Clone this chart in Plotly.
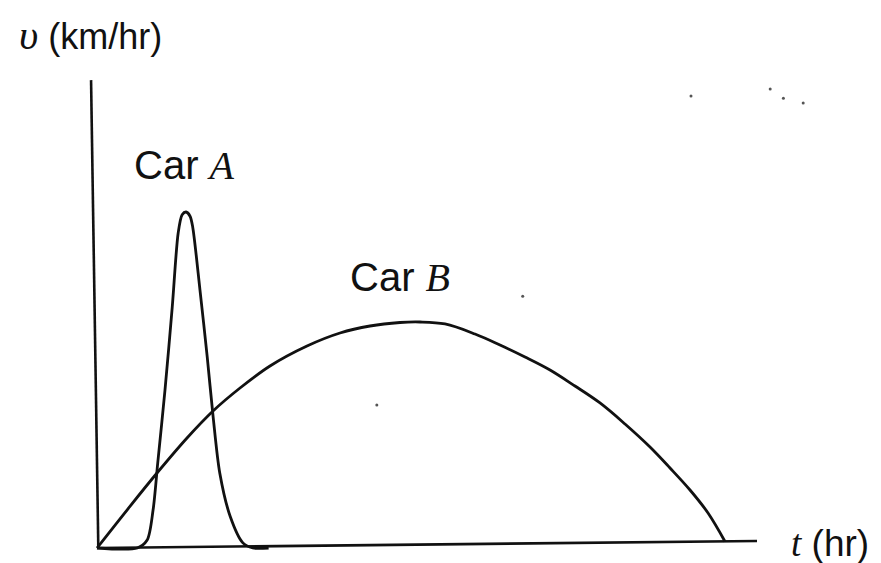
import plotly.graph_objects as go

# Car A velocity curve (t in hr, v in km/hr, arbitrary scale)
car_a_t = [0.0, 0.61, 0.76, 0.85, 0.92, 1.03, 1.14, 1.23, 1.29, 1.35, 1.41, 1.45, 1.56, 1.67, 1.76, 1.86, 2.02, 2.21, 2.36, 2.6]
car_a_v = [0.0, 0.0, 0.17, 0.82, 1.82, 3.39, 5.17, 6.76, 7.15, 7.21, 7.12, 6.89, 5.54, 4.10, 2.81, 1.61, 0.67, 0.11, 0.0, 0.0]

# Car B velocity curve
car_b_t = [0.0, 0.455, 0.909, 1.364, 1.758, 2.167, 2.621, 3.182, 3.682, 4.136, 4.591, 4.894, 5.273,
           5.727, 6.106, 6.485, 6.864, 7.242, 7.621, 8.0, 8.379, 8.682, 8.985, 9.258, 9.515]
car_b_v = [0.0, 0.815, 1.609, 2.361, 2.940, 3.433, 3.906, 4.335, 4.614, 4.764, 4.839, 4.850, 4.807,
           4.592, 4.356, 4.099, 3.820, 3.476, 3.112, 2.661, 2.167, 1.717, 1.245, 0.751, 0.14]

# axes drawn as in the scan (slightly tilted)
x_axis_t = [0.0, 10.0]
x_axis_v = [0.0, 0.15]
y_axis_t = [0.02, -0.09]
y_axis_v = [0.0, 10.04]

# scan specks
speck_t = [6.45, 4.24, 9.0, 10.2, 10.4, 10.7]
speck_v = [5.4, 3.07, 9.7, 9.85, 9.65, 9.55]

PX_T = 66.0    # pixels per hour unit
PX_V = 46.6    # pixels per km/hr unit
OFF = 8        # page body margin
W, H = 881 - OFF, 563 - OFF

fig = go.Figure()
fig.add_trace(go.Scatter(x=x_axis_t, y=x_axis_v, mode="lines",
                         line=dict(color="#111", width=2.6), hoverinfo="skip"))
fig.add_trace(go.Scatter(x=y_axis_t, y=y_axis_v, mode="lines",
                         line=dict(color="#111", width=2.6), hoverinfo="skip"))
fig.add_trace(go.Scatter(x=car_b_t, y=car_b_v, mode="lines", name="Car B",
                         line=dict(color="#111", width=2.8, shape="spline", smoothing=1)))
fig.add_trace(go.Scatter(x=car_a_t, y=car_a_v, mode="lines", name="Car A",
                         line=dict(color="#111", width=2.8, shape="spline", smoothing=0.8)))
fig.add_trace(go.Scatter(x=speck_t, y=speck_v, mode="markers",
                         marker=dict(color="#555", size=3), hoverinfo="skip"))

serif = "font-family:'Liberation Serif',serif;font-style:italic"
fig.add_annotation(x=-1.21, y=(548 - 35) / PX_V, xanchor="left", yanchor="middle", showarrow=False,
                   text=f"<span style=\"{serif};font-size:42px\">υ</span> (km/hr)",
                   font=dict(family="Liberation Sans, Arial", size=36, color="#111"))
fig.add_annotation(x=(132 - 97) / PX_T, y=(548 - 165) / PX_V, xanchor="left", yanchor="middle", showarrow=False,
                   text=f"Car <span style=\"{serif}\">A</span>",
                   font=dict(family="Liberation Sans, Arial", size=40, color="#111"))
fig.add_annotation(x=(348 - 97) / PX_T, y=(548 - 277) / PX_V, xanchor="left", yanchor="middle", showarrow=False,
                   text=f"Car <span style=\"{serif}\">B</span>",
                   font=dict(family="Liberation Sans, Arial", size=40, color="#111"))
fig.add_annotation(x=(789 - 97) / PX_T, y=(548 - 543) / PX_V, xanchor="left", yanchor="middle", showarrow=False,
                   text=f"<span style=\"{serif}\">t</span> (hr)",
                   font=dict(family="Liberation Sans, Arial", size=37, color="#111"))

x0 = -(97 - OFF) / PX_T
y1 = (548 - OFF) / PX_V
fig.update_layout(
    width=W, height=H,
    margin=dict(l=0, r=0, t=0, b=0),
    paper_bgcolor="white", plot_bgcolor="white",
    showlegend=False,
    xaxis=dict(range=[x0, x0 + W / PX_T], visible=False, fixedrange=True),
    yaxis=dict(range=[y1 - H / PX_V, y1], visible=False, fixedrange=True),
)
fig.write_html("out.html")
